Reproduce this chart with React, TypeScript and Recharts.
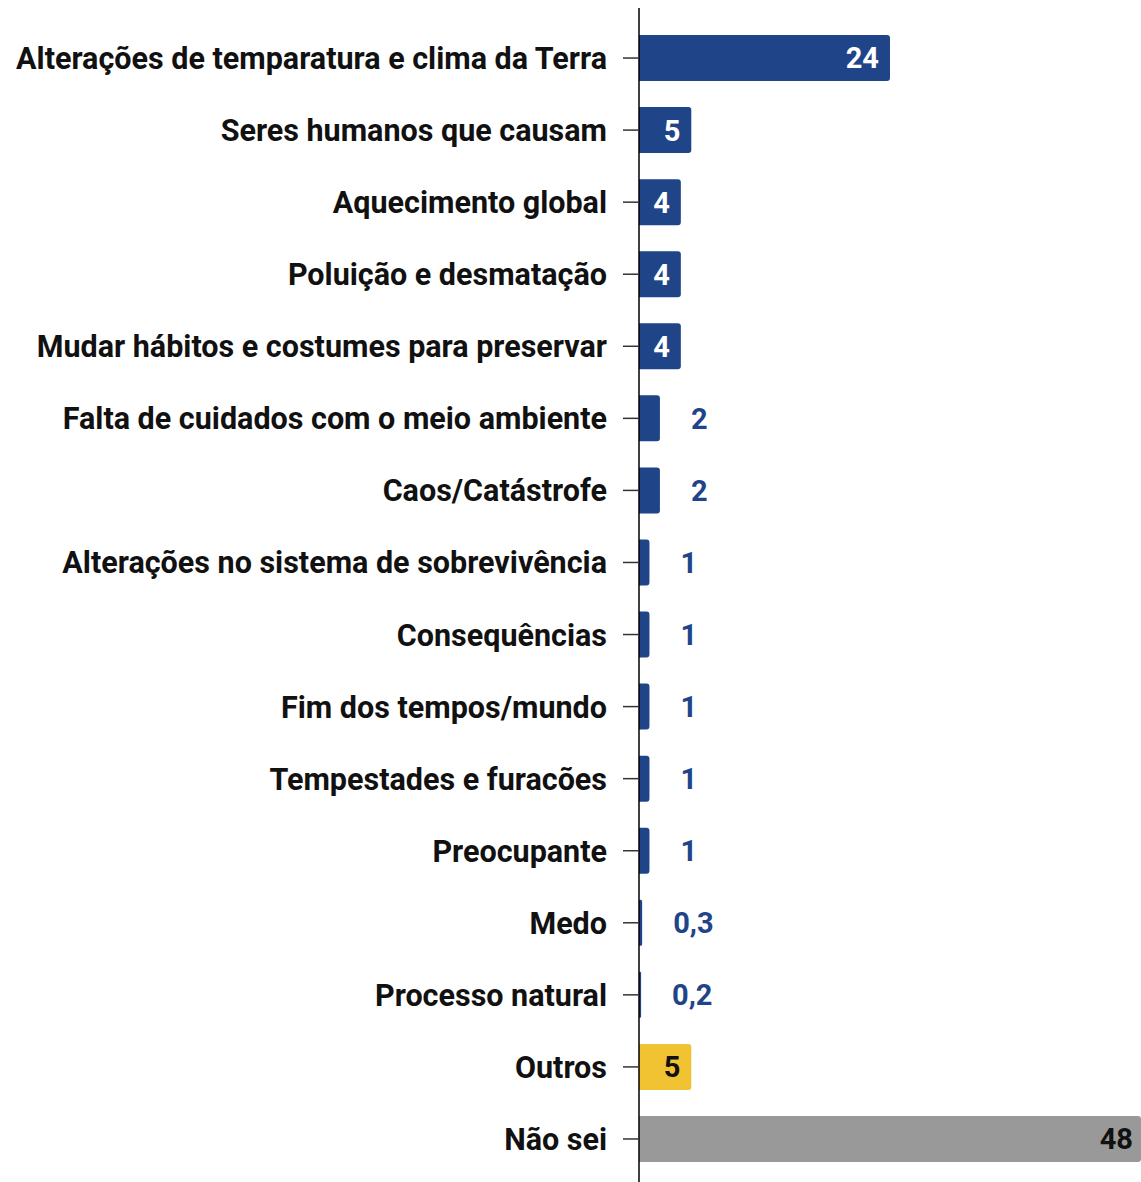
import { BarChart, Bar, XAxis, YAxis, Cell, LabelList } from "recharts";

const categorias = [
  "Alterações de temparatura e clima da Terra",
  "Seres humanos que causam",
  "Aquecimento global",
  "Poluição e desmatação",
  "Mudar hábitos e costumes para preservar",
  "Falta de cuidados com o meio ambiente",
  "Caos/Catástrofe",
  "Alterações no sistema de sobrevivência",
  "Consequências",
  "Fim dos tempos/mundo",
  "Tempestades e furacões",
  "Preocupante",
  "Medo",
  "Processo natural",
  "Outros",
  "Não sei",
];

const valores = [24, 5, 4, 4, 4, 2, 2, 1, 1, 1, 1, 1, 0.3, 0.2, 5, 48];

// grupo de cada resposta: tema, outros ou não sei
const grupos = [
  "tema", "tema", "tema", "tema", "tema", "tema", "tema", "tema",
  "tema", "tema", "tema", "tema", "tema", "tema", "outros", "naosei",
];

const CORES: Record<string, string> = { tema: "#1f4588", outros: "#f1c232", naosei: "#999999" };
const FONTE = "Roboto, 'Noto Sans', sans-serif";

const dados = categorias.map((nome, i) => ({ nome, valor: valores[i], grupo: grupos[i] }));

const fmt = (v: number) => String(v).replace(".", ",");

function Rotulo(props: any) {
  const { x, y, width, height, value, index } = props;
  const grupo = grupos[index];
  const cy = y + height / 2;
  const base = { fontFamily: FONTE, fontSize: 29, fontWeight: 700 } as const;
  if (value >= 4) {
    const cor = grupo === "tema" ? "#ffffff" : "#111111";
    const off = grupo === "naosei" ? 8 : 11;
    return (
      <text x={x + width - off} y={cy} dy="0.36em" textAnchor="end" fill={cor} style={base}>
        {fmt(value)}
      </text>
    );
  }
  return (
    <text
      x={x + width + 31}
      y={cy}
      dy="0.36em"
      textAnchor="start"
      fill="#1f4588"
      stroke="#ffffff"
      strokeWidth={3}
      paintOrder="stroke"
      style={base}
    >
      {fmt(value)}
    </text>
  );
}

function Categoria(props: any) {
  const { x, y, payload } = props;
  return (
    <text
      x={x}
      y={y}
      dy="0.36em"
      textAnchor="end"
      fill="#111111"
      style={{ fontFamily: FONTE, fontSize: 30.5, fontWeight: 700 }}
    >
      {payload.value}
    </text>
  );
}

export default function App() {
  return (
    <div style={{ width: 1141, height: 1182, background: "#fff" }}>
      <style>{`body{margin:0}`}</style>
      <BarChart
        width={1141}
        height={1182}
        data={dados}
        layout="vertical"
        margin={{ top: 8, right: 0, left: 0, bottom: 0 }}
        barSize={46}
      >
        <XAxis type="number" domain={[0, 48]} hide allowDataOverflow />
        <YAxis
          type="category"
          dataKey="nome"
          width={639}
          tickSize={16}
          tickMargin={16}
          padding={{ top: 14, bottom: 7 }}
          axisLine={{ stroke: "#000000", strokeWidth: 1.5 }}
          tickLine={{ stroke: "#333333", strokeWidth: 1.5 }}
          tick={<Categoria />}
          interval={0}
        />
        <Bar dataKey="valor" radius={[0, 3, 3, 0]} isAnimationActive={false}>
          {dados.map((d, i) => (
            <Cell key={i} fill={CORES[d.grupo]} />
          ))}
          <LabelList dataKey="valor" content={<Rotulo />} />
        </Bar>
      </BarChart>
    </div>
  );
}
